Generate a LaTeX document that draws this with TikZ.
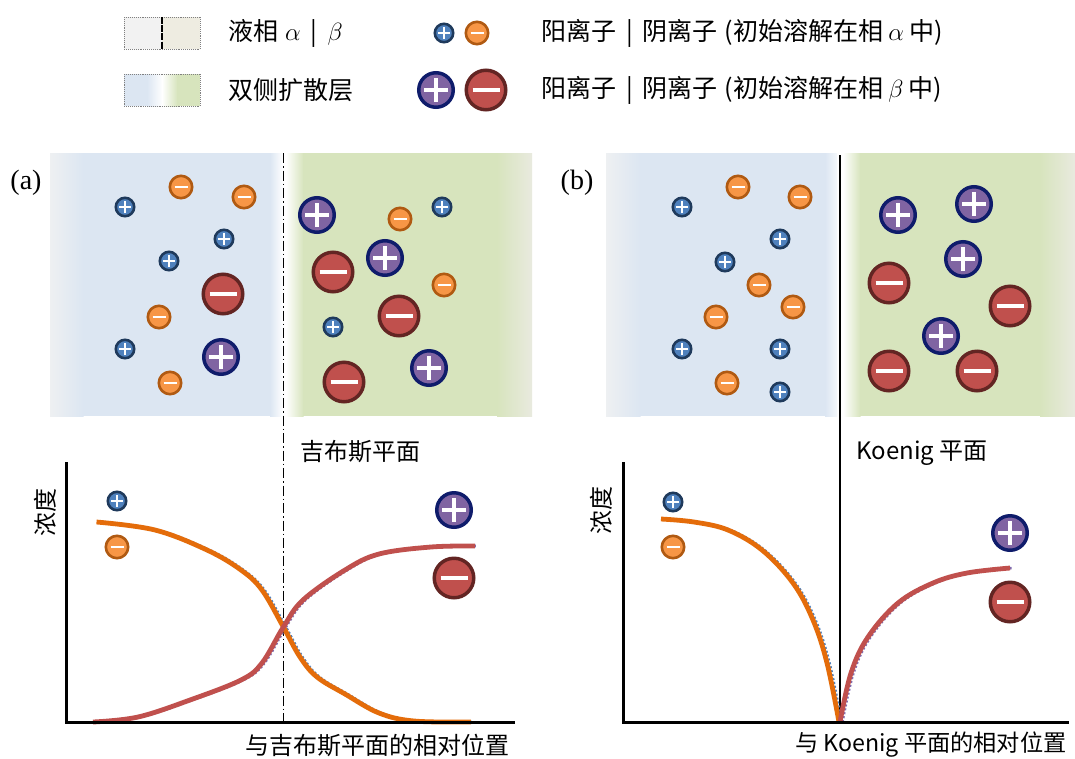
\documentclass[tikz,border=0pt]{standalone}
\usepackage{fontspec}
\setmainfont{Noto Sans CJK SC}
\newfontfamily\serifab{Liberation Serif}
\definecolor{catfill}{HTML}{4F81BD}
\definecolor{catedge}{HTML}{1F3A5C}
\definecolor{anfill}{HTML}{F79646}
\definecolor{anedge}{HTML}{B05A12}
\definecolor{bcatfill}{HTML}{8064A2}
\definecolor{bcatedge}{HTML}{0F1C6B}
\definecolor{banfill}{HTML}{C0504D}
\definecolor{banedge}{HTML}{632523}
\definecolor{phblue}{HTML}{DCE6F2}
\definecolor{phgreen}{HTML}{D7E4BD}
\definecolor{phgray}{HTML}{F2F2F2}
\definecolor{phbeige}{HTML}{EEECE1}
\definecolor{edgegray}{HTML}{EEF0F2}
\definecolor{edgebeige}{HTML}{E9EADF}
\definecolor{orcurve}{HTML}{E46C0A}
\definecolor{rdcurve}{HTML}{C0504D}
\definecolor{shblue}{HTML}{4F81BD}
\definecolor{shpurple}{HTML}{7F6CB0}
\tikzset{
  x=1pt, y=-1pt,
  scat/.style={circle, inner sep=0pt, minimum size=18.4pt, fill=catfill, draw=catedge, line width=2.6pt,
    path picture={\draw[white,line width=2.8pt]
      ([xshift=-6pt]path picture bounding box.center) -- ([xshift=6pt]path picture bounding box.center)
      ([yshift=-6pt]path picture bounding box.center) -- ([yshift=6pt]path picture bounding box.center);}},
  san/.style={circle, inner sep=0pt, minimum size=22.4pt, fill=anfill, draw=anedge, line width=2.6pt,
    path picture={\draw[white,line width=2.8pt]
      ([xshift=-6.5pt]path picture bounding box.center) -- ([xshift=6.5pt]path picture bounding box.center);}},
  bcat/.style={circle, inner sep=0pt, minimum size=34.5pt, fill=bcatfill, draw=bcatedge, line width=3.5pt,
    path picture={\draw[white,line width=4pt]
      ([xshift=-12pt]path picture bounding box.center) -- ([xshift=12pt]path picture bounding box.center)
      ([yshift=-12pt]path picture bounding box.center) -- ([yshift=12pt]path picture bounding box.center);}},
  ban/.style={circle, inner sep=0pt, minimum size=39.5pt, fill=banfill, draw=banedge, line width=3.5pt,
    path picture={\draw[white,line width=4pt]
      ([xshift=-13.5pt]path picture bounding box.center) -- ([xshift=13.5pt]path picture bounding box.center);}},
  lbl/.style={inner sep=0pt, font=\fontsize{24}{28}\selectfont},
  leglbl/.style={inner sep=0pt, font=\fontsize{25}{29}\selectfont, anchor=west},
  panellbl/.style={inner sep=0pt, font=\serifab\fontsize{28}{32}\selectfont},
  axisline/.style={line width=3pt, black},
  legborder/.style={draw=gray, densely dotted, line width=0.9pt},
  orline/.style={orcurve, line width=4.8pt},
  rdline/.style={rdcurve, line width=4.8pt},
  shadowb/.style={shblue, line width=2.6pt, dash pattern=on 2pt off 2pt, xshift=2.5pt},
  shadowp/.style={shpurple, line width=2.6pt, dash pattern=on 2pt off 2pt, xshift=2.5pt},
}
\begin{document}
\begin{tikzpicture}
\useasboundingbox (0,0) rectangle (1075,758);
\fill[white] (0,0) rectangle (1075,758);

% ---------------- legend ----------------
\fill[phgray] (124,17) rectangle (162,49);
\fill[phbeige] (162,17) rectangle (200,49);
\draw[legborder] (124,17) rectangle (200,49);
\draw[line width=1.8pt, dash pattern=on 7pt off 1.2pt] (162,17) -- (162,49);
\node[leglbl] (leg1) at (228,33) {液相\hspace{7pt}$\alpha$\hspace{10pt}|\hspace{10pt}$\beta$};

\fill[phblue] (124,74) rectangle (147.5,106);
\shade[left color=phblue, right color=white] (147,74) rectangle (162.5,106);
\shade[left color=white, right color=phgreen] (162,74) rectangle (177.5,106);
\fill[phgreen] (177,74) rectangle (200,106);
\draw[legborder] (124,74) rectangle (200,106);
\node[leglbl] (leg2) at (228,90) {双侧扩散层};

\node[scat] (lc1) at (444,33) {};
\node[san] (la1) at (477,33) {};
\node[bcat] (lc2) at (436,90) {};
\node[ban] (la2) at (486,90) {};
\node[leglbl] (leg3) at (541,33) {阳离子\hspace{10pt}|\hspace{10pt}阴离子\hspace{7pt}(初始溶解在相\hspace{5pt}$\alpha$\hspace{5pt}中)};
\node[leglbl] (leg4) at (541,90) {阳离子\hspace{10pt}|\hspace{10pt}阴离子\hspace{7pt}(初始溶解在相\hspace{5pt}$\beta$\hspace{5pt}中)};

% ---------------- panel (a) top ----------------
\shade[left color=edgegray, right color=phblue] (50,153) rectangle (83.5,416);
\fill[phblue] (83,153) rectangle (270.5,416);
\shade[left color=phblue, right color=white] (270,153) rectangle (283,416);
\shade[left color=white, right color=phgreen] (286,153) rectangle (303.5,416);
\fill[phgreen] (303,153) rectangle (497.5,416);
\shade[left color=phgreen, right color=edgebeige] (497,153) rectangle (532,416);
\node[panellbl] (pa) at (26,183) {(a)};

\foreach \p [count=\i] in {(125,207),(224,239),(169,261),(125,349),(333,327),(442,207)}
  \node[scat] (asc\i) at \p {};
\foreach \p [count=\i] in {(181,187),(244,197),(159,317),(170,383),(400,219),(444,285)}
  \node[san] (asa\i) at \p {};
\foreach \p [count=\i] in {(317,215),(385,258),(221,357),(429,368)}
  \node[bcat] (abc\i) at \p {};
\foreach \p [count=\i] in {(333,272),(223,294),(399,316),(344,382)}
  \node[ban] (aba\i) at \p {};

% ---------------- panel (b) top ----------------
\shade[left color=edgegray, right color=phblue] (606,153) rectangle (640.5,416);
\fill[phblue] (640,153) rectangle (825.5,416);
\shade[left color=phblue, right color=white!70!phblue] (825,153) rectangle (837,416);
\shade[left color=white, right color=phgreen] (843,153) rectangle (860.5,416);
\fill[phgreen] (860,153) rectangle (1040.5,416);
\shade[left color=phgreen, right color=edgebeige] (1040,153) rectangle (1075,416);
\node[panellbl] (pb) at (577,183) {(b)};

\foreach \p [count=\i] in {(682,207),(780,239),(725,262),(682,349),(780,349),(780,392)}
  \node[scat] (bsc\i) at \p {};
\foreach \p [count=\i] in {(738,187),(800,197),(759,285),(793,307),(716,317),(727,383)}
  \node[san] (bsa\i) at \p {};
\foreach \p [count=\i] in {(898,215),(974,204),(963,259),(941,336)}
  \node[bcat] (bbc\i) at \p {};
\foreach \p [count=\i] in {(889,283),(1010,306),(889,371),(977,371)}
  \node[ban] (bba\i) at \p {};

% ---------------- dividing planes ----------------
\draw[line width=1.6pt, dash pattern=on 10pt off 3pt on 1.5pt off 3pt] (283.5,153) -- (283.5,721);
\draw[line width=1.4pt] (840,155) -- (840,721);
\node[lbl, anchor=west] (gibbs) at (300,452) {吉布斯平面};
\node[lbl, anchor=west] (koenig) at (856,453) {Koenig 平面};

% ---------------- panel (a) plot ----------------
\draw[shadowb] plot[smooth, tension=0.6] coordinates {(96.5,522) (155,530) (207,550) (241,570) (262,590) (283.4,627) (300,657) (317,677) (345,694) (379,713) (414,721) (471,722)};
\draw[shadowp] plot[smooth, tension=0.6] coordinates {(93,722) (138,717) (190,700) (241,680) (262,663) (283.4,627) (303,600) (345,570) (379,554) (431,547) (475,546)};
\draw[orline] plot[smooth, tension=0.6] coordinates {(96.5,522) (155,530) (207,550) (241,570) (262,590) (283.4,627) (300,657) (317,677) (345,694) (379,713) (414,721) (471,722)};
\draw[rdline] plot[smooth, tension=0.6] coordinates {(93,722) (138,717) (190,700) (241,680) (262,663) (283.4,627) (303,600) (345,570) (379,554) (431,547) (475,546)};
\draw[axisline] (66.5,462) -- (66.5,722) -- (515,722);
\node[lbl, rotate=90] (ya) at (45,512) {浓度};
\node[scat] (apc) at (117,501) {};
\node[san] (apa) at (117,547) {};
\node[bcat] (apbc) at (454,510) {};
\node[ban] (apba) at (454,578) {};
\node[lbl, anchor=west] (xa) at (245,745) {与吉布斯平面的相对位置};

% ---------------- panel (b) plot ----------------
\draw[shadowb] plot[smooth, tension=0.6] coordinates {(661,519) (694,522) (728,530) (762,550) (793,583) (813,620) (827,663) (839,722)};
\draw[shadowp] plot[smooth, tension=0.6] coordinates {(840,722) (851,673) (868,637) (898,603) (933,583) (967,573) (1010,568)};
\draw[orline] plot[smooth, tension=0.6] coordinates {(661,519) (694,522) (728,530) (762,550) (793,583) (813,620) (827,663) (839,722)};
\draw[rdline] plot[smooth, tension=0.6] coordinates {(840,722) (851,673) (868,637) (898,603) (933,583) (967,573) (1010,568)};
\draw[axisline] (623,462) -- (623,722) -- (1069,722);
\node[lbl, rotate=90] (yb) at (601,510) {浓度};
\node[scat] (bpc) at (673,502) {};
\node[san] (bpa) at (673,547) {};
\node[bcat] (bpbc) at (1010,533) {};
\node[ban] (bpba) at (1010,602) {};
\node[lbl, anchor=west, font=\fontsize{23.2}{27}\selectfont] (xb) at (795,745) {与 Koenig 平面的相对位置};
\end{tikzpicture}
\end{document}
